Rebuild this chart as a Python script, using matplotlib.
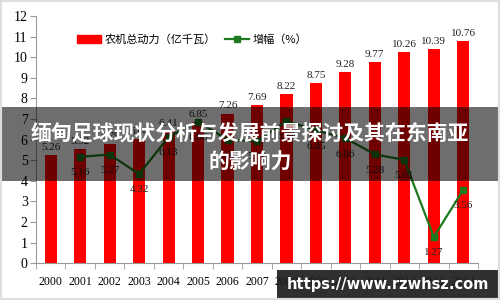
import numpy as np
import matplotlib.pyplot as plt
from matplotlib.patches import Rectangle
from matplotlib.lines import Line2D
from matplotlib.patches import Patch

# data
years = ['2000', '2001', '2002', '2003', '2004', '2005', '2006', '2007',
         '2008', '2009', '2010', '2011', '2012', '2013', '2014']
power = [5.26, 5.52, 5.79, 6.04, 6.41, 6.85, 7.26, 7.69,
         8.22, 8.75, 9.28, 9.77, 10.26, 10.39, 10.76]
growth_years = years[1:]
growth = [5.16, 5.27, 4.32, 6.13, 6.86, 5.99, 5.92,
          6.89, 6.45, 6.06, 5.28, 5.01, 1.27, 3.56]

serif = 'Liberation Serif'
cjk = ['Noto Sans CJK SC', 'DejaVu Sans']

fig = plt.figure(figsize=(5, 3), dpi=100)
ax = fig.add_axes([0.072, 0.123, 0.884, 0.824])

x = np.arange(len(years))
ax.bar(x, power, width=0.41, color='#ff0000', zorder=2)
for xi, v in zip(x, power):
    ax.text(xi, v + 0.15, f'{v:.2f}', ha='center', va='bottom',
            fontsize=8, family=serif, color='#222222')

gx = x[1:]
ax.plot(gx, growth, color='#1e7a1e', lw=1.6, marker='s', ms=5,
        mfc='#1e7a1e', mec='#1e7a1e', zorder=3)
for xi, v in zip(gx, growth):
    ax.text(xi, v - 0.55, f'{v:.2f}', ha='center', va='top',
            fontsize=8, family=serif, color='#222222', zorder=4)

ax.set_xlim(-0.5, len(years) - 0.5)
ax.set_ylim(0, 12)
ax.set_yticks(range(0, 13))
ax.set_yticklabels([str(i) for i in range(0, 13)], family=serif, fontsize=10)
ax.set_xticks(x)
ax.set_xticklabels(years, family=serif, fontsize=8.5)
ax.set_xticks(np.arange(-0.5, len(years)), minor=True)
ax.tick_params(axis='x', which='major', length=0, pad=9)
ax.tick_params(axis='x', which='minor', length=4, color='#999999')
ax.tick_params(axis='y', length=4, color='#999999', pad=2)
for s in ['top', 'right']:
    ax.spines[s].set_visible(False)
for s in ['left', 'bottom']:
    ax.spines[s].set_color('#999999')

handles = [Patch(color='#ff0000'),
           Line2D([], [], color='#1e7a1e', lw=1.6, marker='s', ms=5)]
ax.legend(handles, ['农机总动力（亿千瓦）', '增幅（%）'], ncol=2, frameon=False,
          loc='center left', bbox_to_anchor=(0.07, 0.903), prop={'family': cjk, 'size': 8},
          handlelength=2.2, columnspacing=0.8, handletextpad=0.3)

# overlay banner with title
fig.patches.append(Rectangle((0, 1 - 181 / 300), 1, 74 / 300, transform=fig.transFigure,
                             facecolor='black', alpha=0.57, zorder=5))
fig.text(0.5, 1 - 134 / 300, '缅甸足球现状分析与发展前景探讨及其在东南亚', ha='center', va='center',
         fontsize=15, fontweight='bold', color='white', family=cjk, zorder=6)
fig.text(0.5, 1 - 162 / 300, '的影响力', ha='center', va='center',
         fontsize=15, fontweight='bold', color='white', family=cjk, zorder=6)

# watermark
fig.patches.append(Rectangle((277 / 500, 0), 223 / 500, 30 / 300, transform=fig.transFigure,
                             facecolor='#1e1e1e', alpha=0.92, zorder=5))
fig.text(388 / 500, 15 / 300, 'https://www.rzwhsz.com', ha='center', va='center',
         fontsize=10.5, fontweight='bold', color='white', family='DejaVu Sans', zorder=6)

# light frame round the picture
fig.patches.append(Rectangle((0, 0), 1, 1, transform=fig.transFigure, fill=False,
                             edgecolor='#dddddd', lw=3, zorder=7))

fig.savefig('out.png', dpi=100)
